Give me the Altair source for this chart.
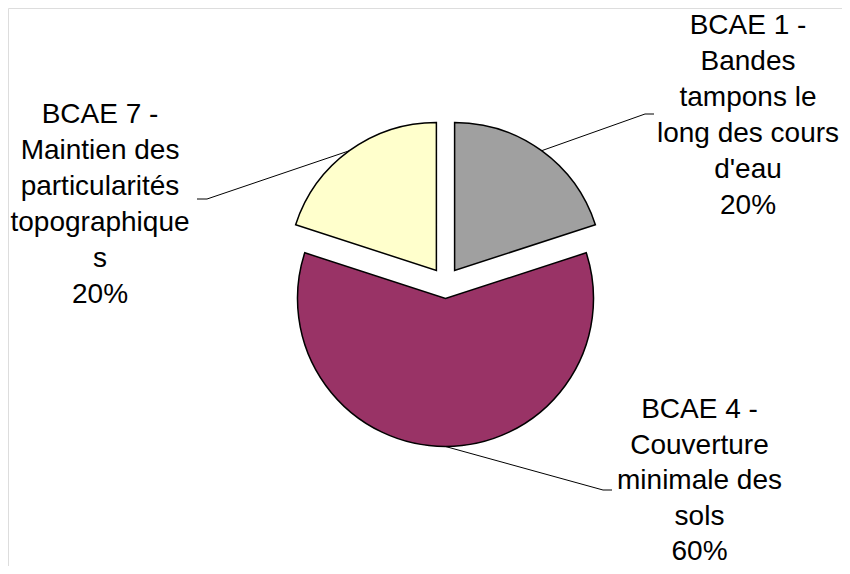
import math
import altair as alt
import pandas as pd

# ---- data ----
categories = [
    "BCAE 1 - Bandes tampons le long des cours d'eau",
    "BCAE 4 - Couverture minimale des sols",
    "BCAE 7 - Maintien des particularités topographiques",
]
label_lines = [
    ["BCAE 1 -", "Bandes", "tampons le", "long des cours", "d'eau"],
    ["BCAE 4 -", "Couverture", "minimale des", "sols"],
    ["BCAE 7 -", "Maintien des", "particularités", "topographique", "s"],
]
values = [20, 60, 20]
colors = ["#A0A0A0", "#993366", "#FFFFCC"]

# ---- layout (style) ----
W, H = 834, 558
CX, CY = 437.5, 275.0
R = 148
EXPLODE = 15.5
FONT = "Liberation Sans"
FS = 28
LH = 36
label_anchor = [(740.0, 25.5), (691.5, 410.0), (92.0, 115.0)]
label_lh = [36, 35.5, 36]
leader_elbow = [((637, 106), (646, 106)), ((595, 482), (604, 482)), ((199, 191), (189, 191))]

total = sum(values)
df = pd.DataFrame({"category": categories, "value": values, "order": list(range(len(values)))})

# leader lines: start on the exploded slice's arc at its mid angle
rows = []
cum = 0
for i, v in enumerate(values):
    mid = 2 * math.pi * (cum + v / 2) / total
    cum += v
    sx = CX + EXPLODE * math.sin(mid) + R * math.sin(mid)
    sy = CY - EXPLODE * math.cos(mid) - R * math.cos(mid)
    pts = [(sx, sy), leader_elbow[i][0], leader_elbow[i][1]]
    for k, (px, py) in enumerate(pts):
        rows.append({"category": categories[i], "seq": k, "lx": px, "ly": py})
leaders = pd.DataFrame(rows)

labels = pd.DataFrame({
    "category": categories,
    "text": ["\n".join(label_lines[i] + [f"{round(100 * values[i] / total)}%"]) for i in range(len(values))],
    "tx": [a[0] for a in label_anchor],
    "ty": [a[1] for a in label_anchor],
})

color_scale = alt.Scale(domain=categories, range=colors)

arcs = (
    alt.Chart(df)
    .transform_joinaggregate(total="sum(value)")
    .transform_window(cum="sum(value)", sort=[alt.SortField("order")])
    .transform_calculate(t0="(datum.cum - datum.value) / datum.total", t1="datum.cum / datum.total")
    .transform_calculate(mid="PI * (datum.t0 + datum.t1)")
    .transform_calculate(
        px=f"{CX} + {EXPLODE} * sin(datum.mid)",
        py=f"{CY} - {EXPLODE} * cos(datum.mid)",
    )
    .mark_arc(radius=R, stroke="black", strokeWidth=1.5)
    .encode(
        theta=alt.Theta("t0:Q", scale=alt.Scale(domain=[0, 1], range=[0, 2 * math.pi]), stack=None),
        theta2="t1:Q",
        x=alt.X("px:Q", scale=None, axis=None),
        y=alt.Y("py:Q", scale=None, axis=None),
        color=alt.Color("category:N", scale=color_scale, legend=None),
    )
)

lines = (
    alt.Chart(leaders)
    .mark_line(color="black", strokeWidth=1)
    .encode(
        x=alt.X("lx:Q", scale=None, axis=None),
        y=alt.Y("ly:Q", scale=None, axis=None),
        detail="category:N",
        order="seq:Q",
    )
)

text_layers = []
for i in range(len(values)):
    text_layers.append(
        alt.Chart(labels.iloc[[i]])
        .mark_text(font=FONT, fontSize=FS, lineHeight=label_lh[i], lineBreak="\n",
                   align="center", baseline="alphabetic", color="black")
        .encode(
            x=alt.X("tx:Q", scale=None, axis=None),
            y=alt.Y("ty:Q", scale=None, axis=None),
            text="text:N",
        )
    )

chart = (
    alt.layer(arcs, lines, *text_layers)
    .properties(width=W, height=H, padding=0, autosize=alt.AutoSizeParams(type="none"))
    .configure_view(strokeWidth=0, stroke="transparent")
    .configure(background="white")
)

chart.save("out.html", embed_options={"renderer": "svg", "actions": False})
